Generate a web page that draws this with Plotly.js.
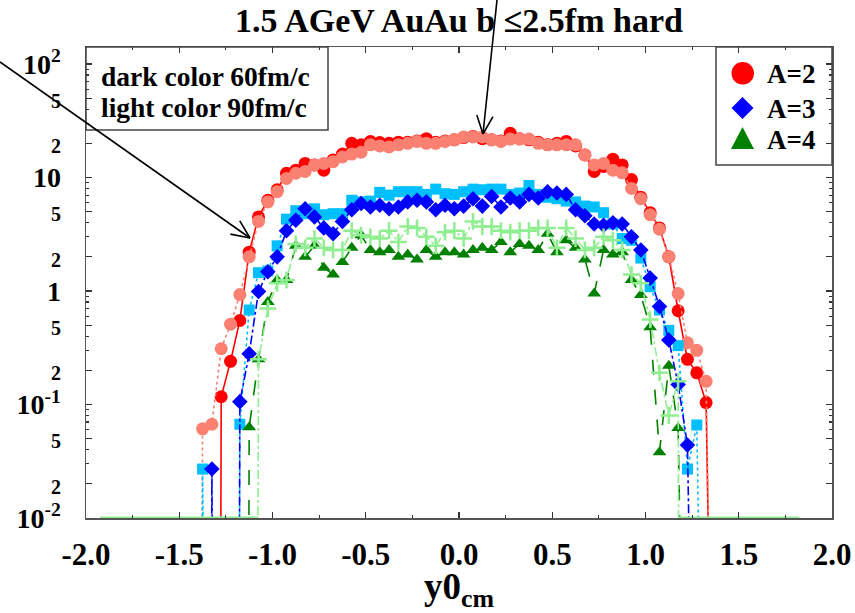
<!DOCTYPE html>
<html>
<head>
<meta charset="utf-8">
<script src="https://cdn.plot.ly/plotly-3.0.1.min.js"></script>
<style>html,body{margin:0;padding:0;background:#fff;}#chart{width:855px;height:613px;}</style>
</head>
<body>
<div id="chart"></div>
<script>
// ---- bin centres (y0_cm) ----
const yBins = [
 -1.975,-1.925,-1.875,-1.825,-1.775,-1.725,-1.675,-1.625,-1.575,-1.525,-1.475,
 -1.425,-1.375,-1.325,-1.275,-1.225,-1.175,-1.125,-1.075,-1.025,-0.975,
 -0.925,-0.875,-0.825,-0.775,-0.725,-0.675,-0.625,-0.575,-0.525,-0.475,
 -0.425,-0.375,-0.325,-0.275,-0.225,-0.175,-0.125,-0.075,-0.025,0.025,
 0.075,0.125,0.175,0.225,0.275,0.325,0.375,0.425,0.475,0.525,
 0.575,0.625,0.675,0.725,0.775,0.825,0.875,0.925,0.975,1.025,
 1.075,1.125,1.175,1.225,1.275,1.325,1.375,
 1.425,1.475,1.525,1.575,1.625,1.675,1.725,1.775,1.825,1.875,1.925,1.975
];
// A=2, 60 fm/c (dark red)
const a2_60 = [
 0,0,0,0,0,0,0,0,0,0,0,
 0,0,0,0.117,0.24,0.55,2.2,4.5,6.3,7.8,
 10.9,11.6,13.3,12.9,11.6,14.3,16.1,20,19.4,20.8,
 20.3,20,20.5,20.5,21,22,20.5,21,21.5,22.5,
 23,22,21.5,21,24.5,22,21.5,20.5,19.5,20,
 20.8,19,15.8,11.3,12.5,14.5,12.9,9.6,6.7,4.9,
 3.6,2.0,0.67,0.25,0.19,0.104,0,
 0,0,0,0,0,0,0,0,0,0,0,0
];
// A=2, 90 fm/c (light red)
const a2_90 = [
 0,0,0,0,0,0,0,0,0,0,0,
 0,0.061,0.067,0.31,0.51,0.93,2.0,4.1,6.1,7.5,
 9.8,10.9,11.3,12.9,13.3,13.8,15.2,16.1,16.7,19.4,
 19,18.6,19.4,20,20.8,20,20,20.8,21.5,22.8,
 22.8,22.8,21.5,20.8,21.8,21.8,21.8,20,19.4,19.4,
 19.4,19.4,15.8,12.9,13.3,11.6,11,8.0,6.5,4.7,
 3.5,2.0,0.95,0.35,0.30,0.16,0,
 0,0,0,0,0,0,0,0,0,0,0,0
];
// A=3, 60 fm/c (dark blue)
const a3_60 = [
 0,0,0,0,0,0,0,0,0,0,0,
 0,0,0.027,0,0,0.106,0.28,0.99,1.48,2.0,
 3.4,4.2,5.3,4.5,3.6,3.2,4.1,5.2,5.9,5.5,
 5.7,5.3,5.5,6.1,6.3,6.1,5.2,5.7,5.3,5.6,
 6.5,5.6,6.8,5.5,6.6,6.1,7.1,6.6,7.5,7.3,
 7.1,5.2,4.6,3.9,3.8,4.0,3.9,3.0,2.3,1.3,
 0.73,0.37,0.15,0.044,0,0,0,
 0,0,0,0,0,0,0,0,0,0,0,0
];
// A=3, 90 fm/c (light blue)
const a3_90 = [
 0,0,0,0,0,0,0,0,0,0,0,
 0,0.027,0,0,0,0.067,0.68,1.45,1.5,2.5,
 4.3,5.1,4.8,5.3,4.7,4.8,4.8,6.3,6.1,6.2,
 7.4,7.0,7.5,7.5,7.5,7.1,7.9,7.2,7.1,7.5,
 7.9,7.8,7.9,7.9,7.1,7.3,8.5,7.1,6.7,6.5,
 6.2,6.1,5.6,5.5,4.9,3.9,2.9,2.8,1.95,1.09,
 0.68,0.45,0.33,0.027,0.066,0,0,
 0,0,0,0,0,0,0,0,0,0,0,0
];
// A=4, 60 fm/c (dark green)
const a4_60 = [
 0,0,0,0,0,0,0,0,0,0,0,
 0,0,0,0,0,0,0.063,0.25,0.8,1.25,
 1.25,2.5,2.0,2.5,1.6,1.4,1.8,2.4,3.1,2.3,
 2.2,2.3,2.0,2.1,1.9,2.3,2.0,2.2,2.2,2.1,
 2.3,2.4,2.3,2.7,2.2,2.6,2.5,2.3,3.2,2.2,
 2.8,2.4,1.9,0.95,2.3,2.1,2.2,1.25,0.92,0.48,
 0.038,0.22,0.062,0,0,0,0,
 0,0,0,0,0,0,0,0,0,0,0,0
];
// A=4, 90 fm/c (light green); null = bin not filled
const a4_90 = [
 null,0,0,0,0,0,0,0,0,0,0,
 0,0,0,0,0,0,0,0.25,0.7,1.17,
 1.25,2.6,2.4,2.9,2.4,2.3,2.3,3.4,3.1,3.0,
 2.9,3.4,2.7,3.7,3.6,3.0,2.5,3.3,3.4,2.9,
 4.1,3.7,3.7,3.4,3.3,3.4,3.4,3.6,3.6,2.4,
 3.6,2.9,2.3,2.4,3.0,2.8,2.3,1.4,1.17,0.56,
 0.19,0.08,0.16,0,0,0,0,
 0,0,0,0,0,0,0,0,0,null,null,null
];
const xTickVals = [-2,-1.5,-1,-0.5,0,0.5,1,1.5,2];
const xTickText = ['-2.0','-1.5','-1.0','-0.5','0.0','0.5','1.0','1.5','2.0'];
const yTickVals = [0.01,0.02,0.05,0.1,0.2,0.5,1,2,5,10,20,50,100];
const yTickLabels = ['10|-2','2','5','10|-1','2','5','1','2','5','10','2','5','10|2'];
const legendLabels = ['A=2','A=3','A=4'];
const boxLines = ['dark color 60fm/c','light color 90fm/c'];

// ---- build ----
const FONT = 'Liberation Serif, Times New Roman, serif';
const YMIN = 0.01;
const toPlot = arr => arr.map(v => v === null ? null : (v > 0 ? v : 1e-30));

// y tick text: decades large with superscript, 2/5 smaller
const yTickText = yTickLabels.map(s => {
  if (s.indexOf('|') >= 0) { const p = s.split('|'); return p[0] + '<sup>' + p[1] + '</sup>'; }
  if (s === '1' || s === '10') return s;
  return '<span style="font-size:20px">' + s + '</span>';
});

function series(vals, color, dash, symbol, size, extra) {
  return {
    x: yBins, y: toPlot(vals), type: 'scatter', mode: 'lines+markers',
    line: {color: color, width: 1.6, dash: dash},
    marker: Object.assign({symbol: symbol, size: size, color: color, line: {width: 0}}, extra || {}),
    showlegend: false, hoverinfo: 'skip'
  };
}

// floor (empty bins drawn on the axis minimum) for A=4 90fm/c
const floorX = [], floorY = [];
for (let i = 0; i < yBins.length; i++) {
  const v = a4_90[i];
  const prev = i > 0 ? a4_90[i-1] : null, next = i < yBins.length-1 ? a4_90[i+1] : null;
  floorX.push(yBins[i]);
  floorY.push((v === 0 || (v !== null && (prev === 0 || next === 0))) ? YMIN : null);
}

const traces = [
  series(a2_60, '#ff0000', 'solid', 'circle', 13),
  series(a2_90, '#fa8072', 'dot', 'circle', 13),
  series(a3_90, '#00bfff', 'dot', 'square', 11),
  series(a3_60, '#0000ff', 'dashdot', 'diamond', 12),
  series(a4_60, '#008000', 'longdash', 'triangle-up', 12),
  series(a4_90, '#90ee90', 'dashdot', 'cross-thin', 12, {line: {color: '#90ee90', width: 2.5}}),
  {x: floorX, y: floorY, type: 'scatter', mode: 'lines', line: {color: '#90ee90', width: 3},
   connectgaps: false, showlegend: false, hoverinfo: 'skip', cliponaxis: false}
];

// pixel -> paper helpers (plot area 86..832 x 47..518)
const L = 86, R = 832, T = 47, B = 518;
const px = p => (p - L) / (R - L);
const py = p => (B - p) / (B - T);

const shapes = [];
const annotations = [];
// text box
shapes.push({type: 'rect', xref: 'paper', yref: 'paper', x0: px(86), x1: px(328), y0: py(130), y1: py(47),
  line: {color: '#444', width: 1.5}, fillcolor: 'rgba(0,0,0,0)'});
boxLines.forEach((t, i) => annotations.push({xref: 'paper', yref: 'paper', x: px(99), y: py(76 + i*32),
  xanchor: 'left', yanchor: 'middle', text: t, showarrow: false,
  font: {family: FONT, size: 27.5, weight: 'bold', color: '#000'}}));
// legend box
shapes.push({type: 'rect', xref: 'paper', yref: 'paper', x0: px(716), x1: px(832), y0: py(165), y1: py(47),
  line: {color: '#444', width: 1.5}, fillcolor: 'rgba(0,0,0,0)'});
const legY = [73, 108, 139];
shapes.push({type: 'circle', xref: 'paper', yref: 'paper', x0: px(731.5), x1: px(754), y0: py(84.5), y1: py(62),
  fillcolor: '#ff0000', line: {width: 0}});
(function(){
  const cx = 742.5, cy = legY[1], h = 11;
  shapes.push({type: 'path', xref: 'paper', yref: 'paper',
    path: `M ${px(cx)} ${py(cy-h)} L ${px(cx+h)} ${py(cy)} L ${px(cx)} ${py(cy+h)} L ${px(cx-h)} ${py(cy)} Z`,
    fillcolor: '#0000ff', line: {width: 0}});
  const ty = legY[2];
  shapes.push({type: 'path', xref: 'paper', yref: 'paper',
    path: `M ${px(cx)} ${py(ty-12)} L ${px(cx+11.5)} ${py(ty+10)} L ${px(cx-11.5)} ${py(ty+10)} Z`,
    fillcolor: '#008000', line: {width: 0}});
})();
legendLabels.forEach((t, i) => annotations.push({xref: 'paper', yref: 'paper', x: px(765), y: py(legY[i] + 1),
  xanchor: 'left', yanchor: 'middle', text: t, showarrow: false,
  font: {family: FONT, size: 27, weight: 'bold', color: '#000'}}));

// arrows (open V heads)
function arrow(tail, tip) {
  shapes.push({type: 'line', xref: 'paper', yref: 'paper', x0: px(tail[0]), y0: py(tail[1]), x1: px(tip[0]), y1: py(tip[1]),
    line: {color: '#000', width: 1.6}});
  const dx = tail[0] - tip[0], dy = tail[1] - tip[1], len = Math.hypot(dx, dy);
  const ux = dx / len, uy = dy / len, a = 24 * Math.PI / 180, hl = 20;
  [a, -a].forEach(ang => {
    const rx = ux * Math.cos(ang) - uy * Math.sin(ang), ry = ux * Math.sin(ang) + uy * Math.cos(ang);
    shapes.push({type: 'line', xref: 'paper', yref: 'paper', x0: px(tip[0]), y0: py(tip[1]),
      x1: px(tip[0] + rx * hl), y1: py(tip[1] + ry * hl), line: {color: '#000', width: 1.6}});
  });
}
arrow([0, 62], [250, 238]);
arrow([497, 0], [483, 134]);

const minorY = [];
[0.01, 0.1, 1, 10].forEach(d => [3,4,6,7,8,9].forEach(m => minorY.push(m * d)));
const minorX = [-1.75,-1.25,-0.75,-0.25,0.25,0.75,1.25,1.75];

const layout = {
  width: 855, height: 613,
  margin: {l: L, r: 855 - R, t: T, b: 613 - B, pad: 0},
  paper_bgcolor: '#fff', plot_bgcolor: '#fff',
  showlegend: false,
  title: {text: '1.5 AGeV AuAu b \u22642.5fm hard', font: {family: FONT, size: 34, weight: 'bold', color: '#000'},
    x: 0.5, xref: 'paper', xanchor: 'center', y: 1 - 20/613, yref: 'container', yanchor: 'middle'},
  xaxis: {
    range: [-2, 2], tickmode: 'array', tickvals: xTickVals, ticktext: xTickText,
    ticks: 'inside', ticklen: 6, tickwidth: 1.2, tickcolor: '#333',
    minor: {tickmode: 'array', tickvals: minorX, ticks: 'inside', ticklen: 3, tickwidth: 1.2, tickcolor: '#333'},
    showline: true, linecolor: '#555', linewidth: 1.5, mirror: 'allticks',
    showgrid: false, zeroline: false, tickfont: {family: FONT, size: 31, weight: 'bold', color: '#000'},
    ticklabelstandoff: 8,
    title: {text: 'y0<sub>cm</sub>', font: {family: FONT, size: 37, weight: 'bold', color: '#000'}, standoff: 2},
    automargin: false
  },
  yaxis: {
    type: 'log', range: [-2, 2.15], tickmode: 'array', tickvals: yTickVals, ticktext: yTickText,
    ticks: 'inside', ticklen: 6, tickwidth: 1.2, tickcolor: '#333',
    minor: {tickmode: 'array', tickvals: minorY, ticks: 'inside', ticklen: 3, tickwidth: 1.2, tickcolor: '#333'},
    showline: true, linecolor: '#555', linewidth: 1.5, mirror: 'allticks',
    showgrid: false, zeroline: false, tickfont: {family: FONT, size: 28, weight: 'bold', color: '#000'},
    ticklabelstandoff: 18,
    automargin: false
  },
  shapes: shapes,
  annotations: annotations
};

Plotly.newPlot('chart', traces, layout, {displayModeBar: false, staticPlot: true});
</script>
</body>
</html>
